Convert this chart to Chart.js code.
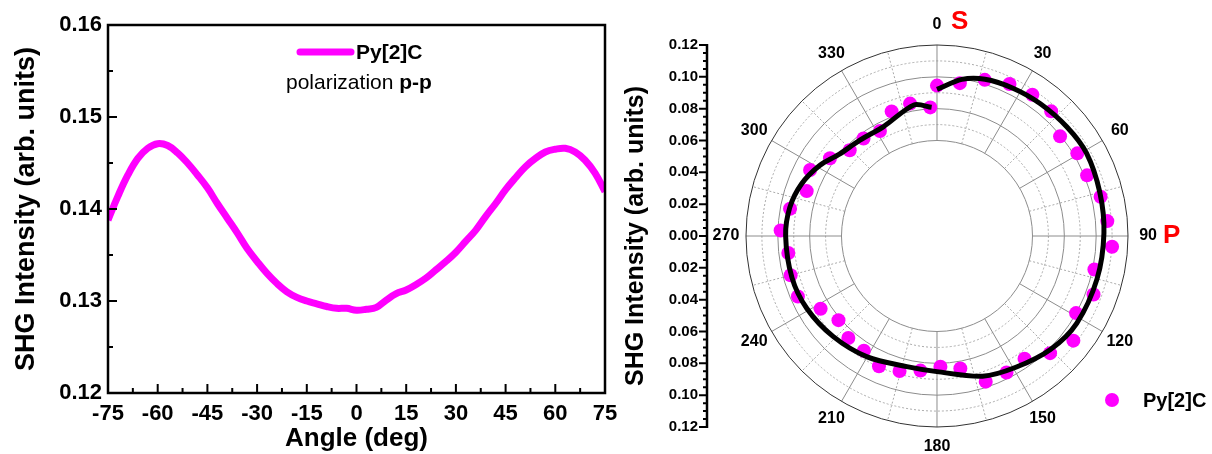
<!DOCTYPE html>
<html>
<head>
<meta charset="utf-8">
<script src="https://cdn.jsdelivr.net/npm/chart.js@4.4.1/dist/chart.umd.min.js"></script>
<style>
  body { margin: 0; background: #fff; width: 1212px; height: 454px; overflow: hidden; position: relative; }
  canvas { position: absolute; top: 0; }
  #scanChart { left: 0; }
  #polarChart { left: 620px; }
</style>
</head>
<body>
<canvas id="scanChart" width="620" height="454"></canvas>
<canvas id="polarChart" width="592" height="454"></canvas>
<script>
const FONT = '"Liberation Sans", Arial, Helvetica, sans-serif';
const MAGENTA = '#FF00FF';

// Left panel: SHG intensity vs angle of incidence
const scanAngles = [-75, -72, -69, -66, -63, -60, -57, -54, -51, -48, -45, -42, -39, -36, -33, -30,
  -27, -24, -21, -18, -15, -12, -9, -6, -3, 0, 3, 6, 9, 12, 15, 18, 21, 24, 27, 30, 33, 36, 39,
  42, 45, 48, 51, 54, 57, 60, 63, 66, 69, 72, 75];
const scanIntensity = [0.1388, 0.1414, 0.1437, 0.1455, 0.1466, 0.1471, 0.1469, 0.1461, 0.1450,
  0.1437, 0.1423, 0.1406, 0.1390, 0.1374, 0.1357, 0.1343, 0.1330, 0.1319, 0.1310, 0.1304, 0.1300,
  0.1297, 0.1294, 0.1292, 0.1292, 0.1290, 0.1291, 0.1293, 0.1301, 0.1308, 0.1312, 0.1318, 0.1325,
  0.1334, 0.1343, 0.1353, 0.1365, 0.1377, 0.1392, 0.1406, 0.1421, 0.1434, 0.1446, 0.1455, 0.1462,
  0.1465, 0.1466, 0.1462, 0.1453, 0.1439, 0.1419];
const scanXTicks = [-75, -60, -45, -30, -15, 0, 15, 30, 45, 60, 75];

// Right panel: polar plot, measured points
const polarAngles = [0, 8.5, 17, 25.5, 34, 42.5, 51, 59.5, 68, 76.5, 85, 93.5, 102, 110.5, 119,
  127.5, 136, 144.5, 153, 161.5, 170, 178.5, 187, 195.5, 204, 212.5, 221, 229.5, 238, 246.5, 255,
  263.5, 272, 280.5, 289, 297.5, 306, 314.5, 323, 331.5, 340, 348.5, 357];
const polarIntensity = [0.0945, 0.0971, 0.1026, 0.1058, 0.1071, 0.1062, 0.0995, 0.1023, 0.1017,
  0.1057, 0.1074, 0.1102, 0.1011, 0.1050, 0.0999, 0.1080, 0.1023, 0.0947, 0.0962, 0.0965, 0.0845,
  0.0821, 0.0852, 0.0880, 0.0896, 0.0855, 0.0849, 0.0814, 0.0862, 0.0953, 0.0952, 0.0940, 0.0983,
  0.0939, 0.0866, 0.0899, 0.0831, 0.0769, 0.0767, 0.0751, 0.0833, 0.0849, 0.0809];

// fitted curve
const fitAngles = [0, 9, 17, 27, 38, 50, 61, 75, 89, 105, 122, 135, 149, 162, 180, 193, 210, 226,
  241, 254, 270, 281, 291, 301, 310, 321, 334, 350, 357.6];
const fitIntensity = [0.0921, 0.0996, 0.1030, 0.1044, 0.1055, 0.1066, 0.1074, 0.1059, 0.1049,
  0.1041, 0.1035, 0.1008, 0.0962, 0.0926, 0.0852, 0.0842, 0.0877, 0.0908, 0.0936, 0.0948, 0.0951,
  0.0942, 0.0912, 0.0860, 0.0800, 0.0773, 0.0765, 0.0836, 0.0809];

const angleLabels = [0, 30, 60, 90, 120, 150, 180, 210, 240, 270, 300, 330];

function toXY(angleDeg, r) {
  const t = angleDeg * Math.PI / 180;
  return { x: r * Math.sin(t), y: r * Math.cos(t) };
}

// frame + inward ticks for the left panel
const scanFrame = {
  id: 'scanFrame',
  afterDraw(chart) {
    const { ctx, chartArea: a, scales: { x, y } } = chart;
    ctx.save();
    ctx.strokeStyle = '#000';
    ctx.lineWidth = 2.5;
    ctx.strokeRect(a.left, a.top, a.right - a.left, a.bottom - a.top);
    ctx.lineWidth = 2;
    ctx.beginPath();
    for (let v = -75; v <= 75; v += 7.5) {
      const px = x.getPixelForValue(v);
      const len = (v % 15 === 0) ? 9 : 5;
      ctx.moveTo(px, a.bottom);
      ctx.lineTo(px, a.bottom - len);
    }
    for (let i = 0; i <= 8; i++) {
      const v = 0.12 + i * 0.005;
      const py = y.getPixelForValue(v);
      const len = (i % 2 === 0) ? 9 : 5;
      ctx.moveTo(a.left, py);
      ctx.lineTo(a.left + len, py);
    }
    ctx.stroke();

    // legend
    ctx.strokeStyle = MAGENTA;
    ctx.lineWidth = 7;
    ctx.lineCap = 'round';
    ctx.beginPath();
    ctx.moveTo(300, 52);
    ctx.lineTo(351, 52);
    ctx.stroke();
    ctx.fillStyle = '#000';
    ctx.textBaseline = 'middle';
    ctx.textAlign = 'left';
    ctx.font = 'bold 21px ' + FONT;
    ctx.fillText('Py[2]C', 356, 53);
    ctx.font = '21px ' + FONT;
    const lead = 'polarization ';
    ctx.fillText(lead, 286, 83);
    const w = ctx.measureText(lead).width;
    ctx.font = 'bold 21px ' + FONT;
    ctx.fillText('p-p', 286 + w, 83);
    ctx.restore();
  }
};

new Chart(document.getElementById('scanChart'), {
  type: 'line',
  data: {
    datasets: [{
      label: 'Py[2]C',
      data: scanAngles.map((a, i) => ({ x: a, y: scanIntensity[i] })),
      borderColor: MAGENTA,
      borderWidth: 7,
      pointRadius: 0,
      tension: 0.4
    }]
  },
  options: {
    responsive: false,
    animation: false,
    layout: { padding: { top: 25, right: 15, left: 0, bottom: 0 } },
    plugins: { legend: { display: false }, tooltip: { enabled: false } },
    scales: {
      x: {
        type: 'linear',
        min: -75,
        max: 75,
        afterBuildTicks: s => { s.ticks = scanXTicks.map(v => ({ value: v })); },
        afterFit: s => { s.height = 61; s.paddingLeft = 0; s.paddingRight = 0; },
        grid: { display: false, drawTicks: false },
        border: { display: false },
        ticks: { color: '#000', padding: 8, maxRotation: 0, autoSkip: false,
          font: { family: FONT, size: 22, weight: 'bold' } },
        title: { display: true, text: 'Angle (deg)', color: '#000', padding: 0,
          font: { family: FONT, size: 26, weight: 'bold' } }
      },
      y: {
        min: 0.12,
        max: 0.16,
        afterFit: s => { s.width = 108; },
        grid: { display: false, drawTicks: false },
        border: { display: false },
        ticks: { stepSize: 0.01, color: '#000', padding: 6,
          callback: v => v.toFixed(2),
          font: { family: FONT, size: 22, weight: 'bold' } },
        title: { display: true, text: 'SHG Intensity (arb. units)', color: '#000',
          padding: { top: 10, bottom: 0 },
          font: { family: FONT, size: 27, weight: 'bold' } }
      }
    }
  },
  plugins: [scanFrame]
});

// polar grid drawn from the cartesian scales
const polarGrid = {
  id: 'polarGrid',
  beforeDatasetsDraw(chart) {
    const { ctx, scales: { x, y } } = chart;
    const cx = x.getPixelForValue(0), cy = y.getPixelForValue(0);
    const rad = v => x.getPixelForValue(v) - cx;
    ctx.save();
    ctx.lineWidth = 1;
    ctx.setLineDash([2, 2]);
    ctx.strokeStyle = '#aaaaaa';
    [0.07, 0.09, 0.11].forEach(v => {
      ctx.beginPath(); ctx.arc(cx, cy, rad(v), 0, Math.PI * 2); ctx.stroke();
    });
    for (let a = 15; a < 360; a += 30) {
      const p0 = toXY(a, 0.06), p1 = toXY(a, 0.12);
      ctx.beginPath();
      ctx.moveTo(x.getPixelForValue(p0.x), y.getPixelForValue(p0.y));
      ctx.lineTo(x.getPixelForValue(p1.x), y.getPixelForValue(p1.y));
      ctx.stroke();
    }
    ctx.setLineDash([]);
    ctx.strokeStyle = '#8c8c8c';
    [0.06, 0.08, 0.10].forEach(v => {
      ctx.beginPath(); ctx.arc(cx, cy, rad(v), 0, Math.PI * 2); ctx.stroke();
    });
    for (let a = 0; a < 360; a += 30) {
      const p0 = toXY(a, 0.06), p1 = toXY(a, 0.12);
      ctx.beginPath();
      ctx.moveTo(x.getPixelForValue(p0.x), y.getPixelForValue(p0.y));
      ctx.lineTo(x.getPixelForValue(p1.x), y.getPixelForValue(p1.y));
      ctx.stroke();
    }
    ctx.strokeStyle = '#333';
    ctx.beginPath(); ctx.arc(cx, cy, rad(0.12), 0, Math.PI * 2); ctx.stroke();
    ctx.restore();
  },
  afterDraw(chart) {
    const { ctx, chartArea: a, scales: { x, y } } = chart;
    const cx = x.getPixelForValue(0), cy = y.getPixelForValue(0);
    ctx.save();
    // left radial axis with outward ticks
    ctx.strokeStyle = '#000';
    ctx.lineWidth = 2.5;
    const top = y.getPixelForValue(0.12), bot = y.getPixelForValue(-0.12);
    ctx.beginPath();
    ctx.moveTo(a.left, top - 1); ctx.lineTo(a.left, bot + 1);
    ctx.stroke();
    ctx.lineWidth = 2;
    ctx.beginPath();
    for (let i = 0; i <= 48; i++) {
      const v = -0.12 + i * 0.005;
      const py = y.getPixelForValue(v);
      const len = (i % 4 === 0) ? 8 : 4;
      ctx.moveTo(a.left, py); ctx.lineTo(a.left - len, py);
    }
    ctx.stroke();

    // angle labels
    ctx.fillStyle = '#000';
    ctx.font = 'bold 16px ' + FONT;
    ctx.textAlign = 'center';
    ctx.textBaseline = 'middle';
    angleLabels.forEach(ang => {
      const p = toXY(ang, 0.1326);
      ctx.fillText(String(ang), x.getPixelForValue(p.x), y.getPixelForValue(p.y));
    });

    // S and P markers
    ctx.fillStyle = '#FF0000';
    ctx.font = 'bold 26px ' + FONT;
    ctx.textAlign = 'left';
    ctx.fillText('S', cx + 14, 22);
    ctx.fillText('P', cx + 226, cy);

    // legend
    ctx.fillStyle = MAGENTA;
    ctx.beginPath(); ctx.arc(492, 400, 7, 0, Math.PI * 2); ctx.fill();
    ctx.fillStyle = '#000';
    ctx.font = 'bold 20px ' + FONT;
    ctx.fillText('Py[2]C', 523, 401);
    ctx.restore();
  }
};

new Chart(document.getElementById('polarChart'), {
  type: 'scatter',
  data: {
    datasets: [{
      label: 'fit',
      data: fitAngles.map((a, i) => toXY(a, fitIntensity[i])),
      showLine: true,
      borderColor: '#000',
      borderWidth: 5,
      pointRadius: 0,
      tension: 0.3,
      order: 0
    }, {
      label: 'Py[2]C',
      data: polarAngles.map((a, i) => toXY(a, polarIntensity[i])),
      backgroundColor: MAGENTA,
      borderWidth: 0,
      pointRadius: 7,
      order: 1
    }]
  },
  options: {
    responsive: false,
    animation: false,
    layout: { padding: { top: 45, right: 84, left: 0, bottom: 27 } },
    plugins: { legend: { display: false }, tooltip: { enabled: false } },
    scales: {
      x: { type: 'linear', min: -0.1445, max: 0.12, display: false },
      y: {
        type: 'linear',
        min: -0.12,
        max: 0.12,
        afterFit: s => { s.width = 87; },
        grid: { display: false, drawTicks: false },
        border: { display: false },
        ticks: { stepSize: 0.02, color: '#000', padding: 9,
          callback: v => Math.abs(v).toFixed(2),
          font: { family: FONT, size: 15, weight: 'bold' } },
        title: { display: true, text: 'SHG Intensity (arb. units)', color: '#000',
          padding: { top: 1, bottom: 0 },
          font: { family: FONT, size: 25, weight: 'bold' } }
      }
    }
  },
  plugins: [polarGrid]
});
</script>
</body>
</html>
